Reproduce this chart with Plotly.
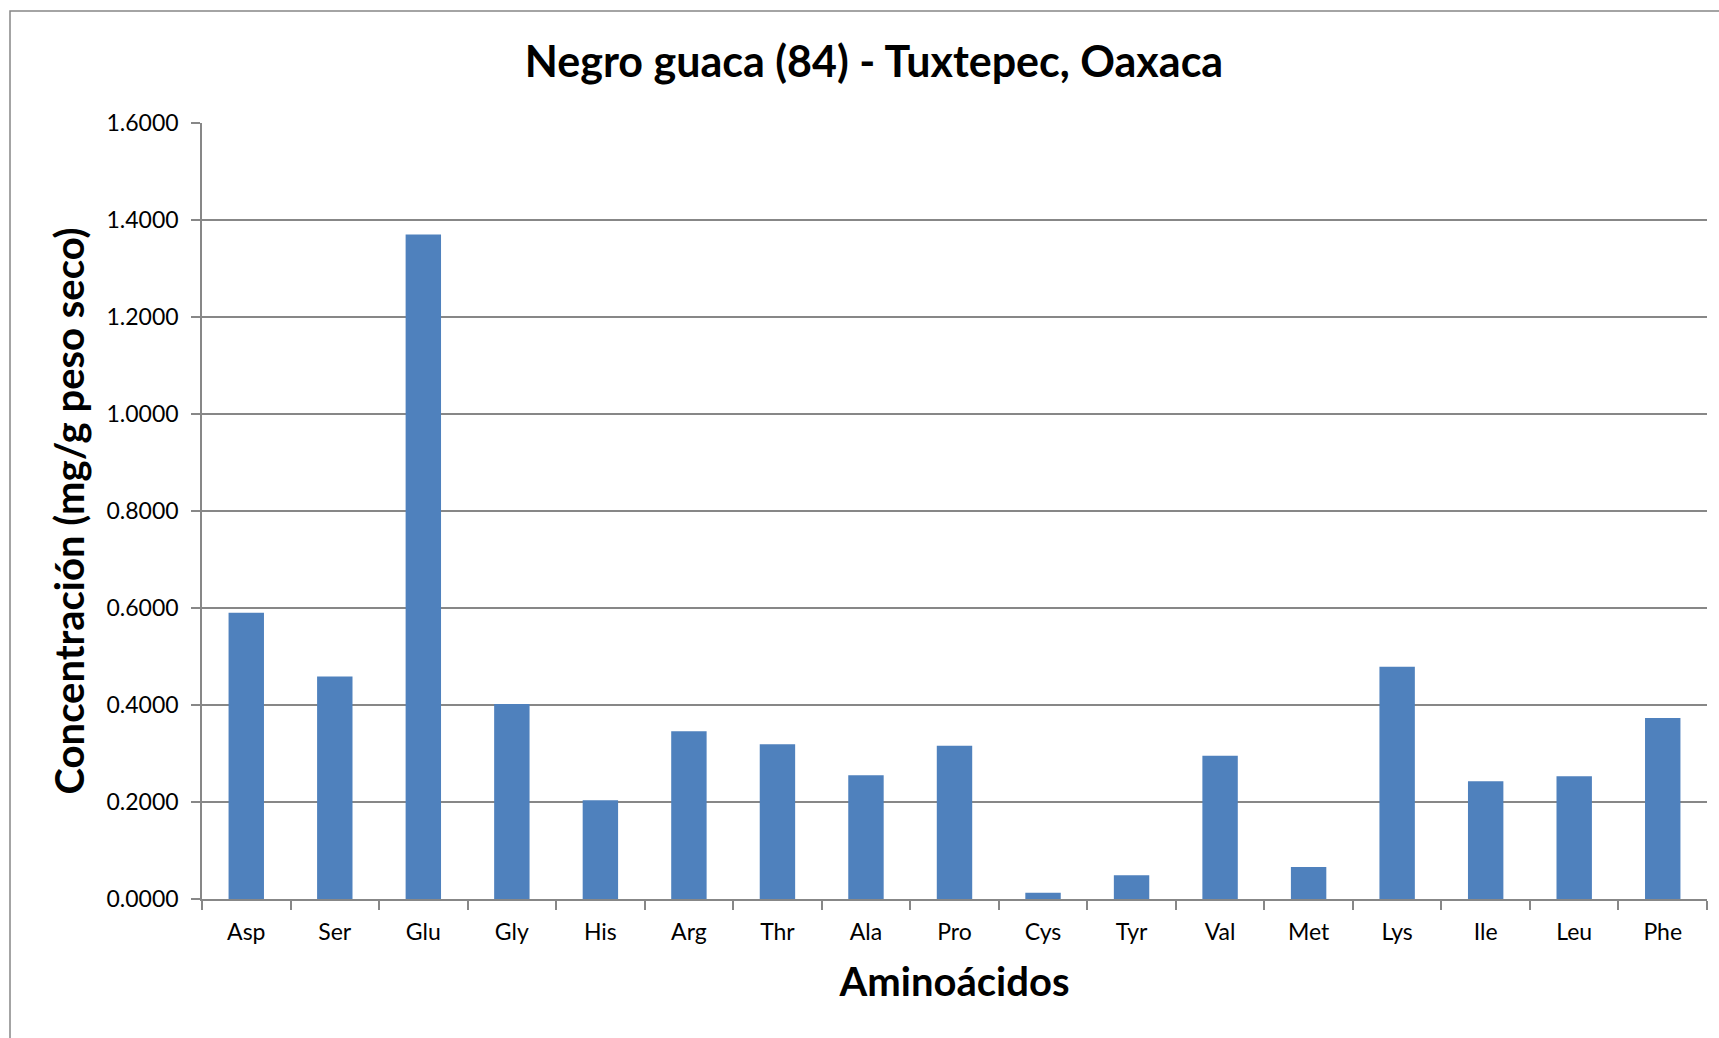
import plotly.graph_objects as go

categories = ["Asp", "Ser", "Glu", "Gly", "His", "Arg", "Thr", "Ala", "Pro",
              "Cys", "Tyr", "Val", "Met", "Lys", "Ile", "Leu", "Phe"]
values = [0.590, 0.459, 1.370, 0.402, 0.2035, 0.346, 0.319, 0.255, 0.316,
          0.013, 0.049, 0.2955, 0.066, 0.479, 0.2427, 0.253, 0.373]
y_ticks = [0.0, 0.2, 0.4, 0.6, 0.8, 1.0, 1.2, 1.4, 1.6]
y_tick_labels = ["0.0000", "0.2000", "0.4000", "0.6000", "0.8000",
                 "1.0000", "1.2000", "1.4000", "1.6000"]

W, H = 1719, 1038
L, R, T, B = 202, 12, 123, 139
pw, ph = W - L - R, H - T - B

grid = "#878787"
font = "Lato"

fig = go.Figure(go.Bar(
    x=categories, y=values,
    marker=dict(color="#4F81BD", line=dict(width=0)),
    width=0.4,
))

fig.update_layout(
    width=W, height=H,
    margin=dict(l=L, r=R, t=T, b=B, pad=0),
    paper_bgcolor="white", plot_bgcolor="white",
    showlegend=False,
    title=dict(text="<b>Negro guaca (84) - Tuxtepec, Oaxaca</b>",
               x=874 / W, xanchor="center",
               y=1 - 62 / H, yanchor="middle",
               font=dict(family=font, size=43, color="black")),
    font=dict(family=font, color="black"),
)

fig.update_xaxes(
    type="category",
    showline=True, linecolor=grid, linewidth=1.5,
    ticks="outside", tickson="boundaries", ticklen=9, tickcolor=grid, tickwidth=1.5,
    ticklabelstandoff=12,
    tickfont=dict(family=font, size=23, color="black"),
    showgrid=False,
    title=dict(text="<b>Aminoácidos</b>", font=dict(family=font, size=40, color="black"),
               standoff=24),
    range=[-0.5, len(categories) - 0.5],
)

fig.update_yaxes(
    range=[0, 1.6],
    tickvals=y_ticks, ticktext=y_tick_labels,
    showline=True, linecolor=grid, linewidth=1.5,
    ticks="outside", ticklen=9, tickcolor=grid, tickwidth=1.5,
    ticklabelstandoff=8,
    showgrid=True, gridcolor=grid, gridwidth=1.5,
    zeroline=False,
    tickfont=dict(family=font, size=23, color="black"),
    title=dict(text="<b>Concentración (mg/g peso seco)</b>",
               font=dict(family=font, size=40, color="black"),
               standoff=10),
)

# outer chart-area frame
fig.add_shape(type="rect", xref="paper", yref="paper",
              x0=(10 - L) / pw, x1=(W + 20 - L) / pw,
              y0=-(B + 20) / ph, y1=(H - 11 - B) / ph,
              line=dict(color=grid, width=1.5), fillcolor="rgba(0,0,0,0)",
              layer="below")

fig.write_html("out.html", config={"displayModeBar": False},
               post_script="document.body.style.margin='0';")
